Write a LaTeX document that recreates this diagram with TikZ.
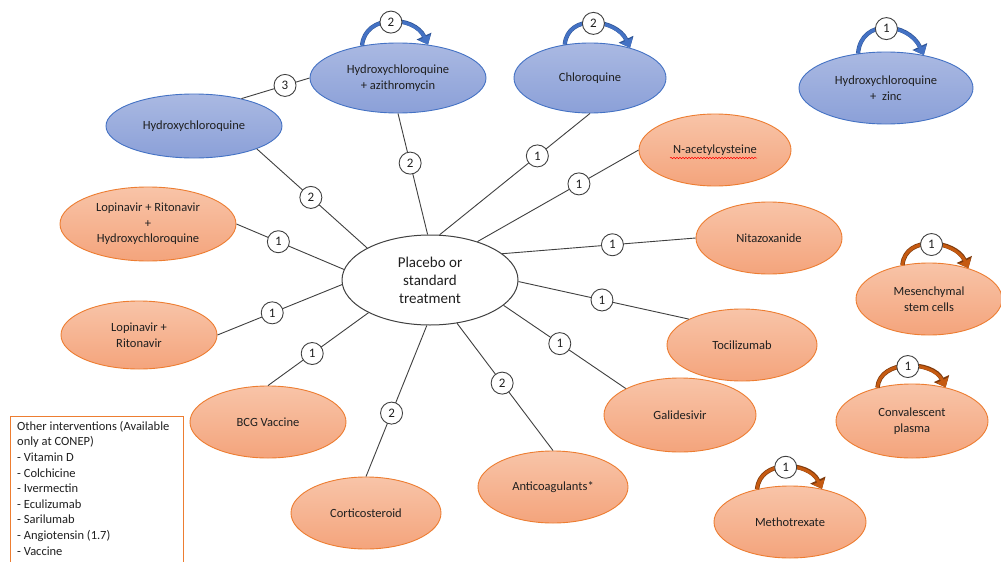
\documentclass[tikz,border=0pt]{standalone}
\usepackage{fontspec}
\setmainfont{Carlito}
\usetikzlibrary{arrows.meta,shapes.geometric,decorations.pathmorphing,calc}

\definecolor{bluefillT}{HTML}{AAB9E2}
\definecolor{bluefillB}{HTML}{8BA0D8}
\definecolor{blueedge}{HTML}{4472C4}
\definecolor{orfillT}{HTML}{F8C4A8}
\definecolor{orfillB}{HTML}{F4A47C}
\definecolor{oredge}{HTML}{ED7D31}
\definecolor{linegray}{HTML}{404040}
\definecolor{arrowblue}{HTML}{4472C4}
\definecolor{arrowblueD}{HTML}{2F5597}
\definecolor{arroworange}{HTML}{C55A11}
\definecolor{arroworangeD}{HTML}{7F3A0C}
\definecolor{txt}{HTML}{1F1F1F}

\tikzset{
  lbl/.style={font=\fontsize{12.5}{15.5}\selectfont, text=txt, align=center},
  blueell/.style={ellipse, lbl, draw=blueedge, line width=0.9pt, top color=bluefillT, bottom color=bluefillB, inner sep=0pt},
  orell/.style={ellipse, lbl, draw=oredge, line width=0.9pt, top color=orfillT, bottom color=orfillB, inner sep=0pt},
  centreell/.style={ellipse, draw=linegray, line width=1pt, fill=white, inner sep=0pt, align=center, text=txt, font=\fontsize{15}{18}\selectfont},
  sz/.style 2 args={minimum width=#1, minimum height=#2},
  conn/.style={draw=linegray, line width=0.9pt},
  num/.style={circle, draw=linegray, fill=white, line width=0.9pt, minimum size=22pt, inner sep=0pt, font=\fontsize{13}{14}\selectfont, text=txt},
  loopblue/.style={line width=3.2pt, draw=arrowblue, -{Triangle[length=4pt 1.3, width=4pt 2.8]},
     preaction={draw=arrowblueD, line width=4.2pt}},
  looporange/.style={line width=3pt, draw=arroworange, -{Triangle[length=4pt 1.3, width=4pt 2.8]},
     preaction={draw=arroworangeD, line width=4.4pt}},
  boxtext/.style={anchor=north west, align=left, inner sep=0pt, text=txt, font=\fontsize{12.5}{15.6}\selectfont},
}

\begin{document}
\begin{tikzpicture}[x=1pt,y=-1pt]
\fill[white] (0,0) rectangle (1001,562);
\useasboundingbox (0,0) rectangle (1001,562);

% centre
\node[centreell, sz={176pt}{90pt}] (c) at (430,280) {Placebo or\\standard\\treatment};

% blue nodes
\node[blueell, sz={176pt}{64pt}] (hcq) at (194,126) {Hydroxychloroquine};
\node[blueell, sz={176pt}{70pt}] (hcqaz) at (398,78) {Hydroxychloroquine\\+ azithromycin};
\node[blueell, sz={152pt}{70pt}] (chl) at (590,78) {Chloroquine};
\node[blueell, sz={174pt}{72pt}] (hcqzn) at (886,88) {Hydroxychloroquine\\+\ \ zinc};

% orange nodes
\node[orell, sz={152pt}{72pt}] (nac) at (715,150) {N-acetylcysteine};
\node[orell, sz={146pt}{72pt}] (nit) at (769,238) {Nitazoxanide};
\node[orell, sz={146pt}{72pt}] (msc) at (929,299) {Mesenchymal\\stem cells};
\node[orell, sz={150pt}{72pt}] (toc) at (742,345) {Tocilizumab};
\node[orell, sz={152pt}{74pt}] (conv) at (912,421) {Convalescent\\plasma};
\node[orell, sz={152pt}{74pt}] (gal) at (680,415) {Galidesivir};
\node[orell, sz={152pt}{72pt}] (mtx) at (790,522) {Methotrexate};
\node[orell, sz={150pt}{72pt}] (anti) at (553,487) {Anticoagulants*};
\node[orell, sz={150pt}{72pt}] (cort) at (366,513) {Corticosteroid};
\node[orell, sz={156pt}{72pt}] (bcg) at (268,422) {BCG Vaccine};
\node[orell, sz={156pt}{68pt}] (lr) at (139,335) {Lopinavir +\\Ritonavir};
\node[orell, sz={176pt}{74pt}] (lrh) at (148,224) {Lopinavir + Ritonavir\\+\\Hydroxychloroquine};

% spell-check underline
\draw[red, line width=0.5pt, decorate, decoration={snake, amplitude=0.7pt, segment length=3pt}]
  ($(nac.center)+(-45,8)$) -- ($(nac.center)+(42,8)$);

% connectors
\draw[conn] (hcq.30) -- node[num,pos=0.64]{3} (hcqaz.west);
\draw[conn] (hcq.-20) -- node[num,pos=0.49]{2} (c.153);
\draw[conn] (hcqaz.south) -- node[num,pos=0.41]{2} (c.93);
\draw[conn] (chl.south) -- node[num,pos=0.35]{1} (c.78);
\draw[conn] (nac.west) -- node[num,pos=0.37]{1} (c.39);
\draw[conn] (nit.west) -- node[num,pos=0.43]{1} (c.20);
\draw[conn] (toc.154) -- node[num,pos=0.51]{1} (c.-1);
\draw[conn] (gal.154) -- node[num,pos=0.54]{1} (c.-19);
\draw[conn] (anti.north) -- node[num,pos=0.53]{2} (c.-58);
\draw[conn] (cort.north) -- node[num,pos=0.42]{2} (c.-94);
\draw[conn] (bcg.north) -- node[num,pos=0.44]{1} (c.208);
\draw[conn] (lr.east) -- node[num,pos=0.44]{1} (c.183);
\draw[conn] (lrh.east) -- node[num,pos=0.39]{1} (c.173);

% self loops
\draw[loopblue] (hcqaz.138) to[out=85,in=115,looseness=1.25] node[num,pos=0.5]{2} (hcqaz.48);
\draw[loopblue] (chl.127) to[out=85,in=115,looseness=1.25] node[num,pos=0.5]{2} (chl.37);
\draw[loopblue] (hcqzn.129) to[out=85,in=115,looseness=1.4] node[num,pos=0.5]{1} (hcqzn.41);
\draw[looporange] (msc.128) to[out=85,in=115,looseness=1.2] node[num,pos=0.5]{1} (msc.38);
\draw[looporange] (conv.136) to[out=85,in=115,looseness=1.1] node[num,pos=0.5]{1} (conv.45);
\draw[looporange] (mtx.135) to[out=85,in=115,looseness=1.2] node[num,pos=0.5]{1} (mtx.46);

% other interventions box
\draw[draw=oredge, line width=0.8pt] (10,563) -- (10,416) -- (183,416) -- (183,563);
\node[boxtext] (other) at (17,421) {Other interventions (Available\\only at CONEP)\\- Vitamin D\\- Colchicine\\- Ivermectin\\- Eculizumab\\- Sarilumab\\- Angiotensin (1.7)\\- Vaccine};
\end{tikzpicture}
\end{document}
